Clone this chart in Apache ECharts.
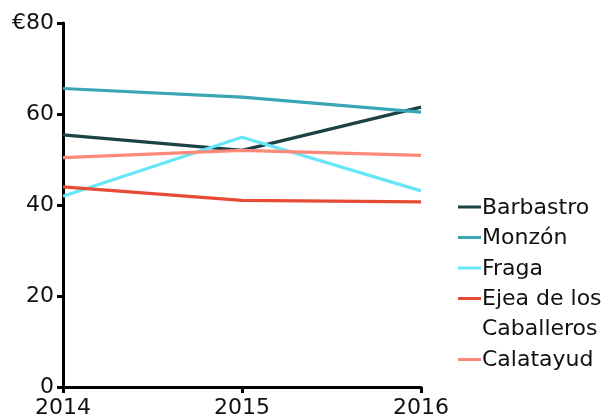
<!DOCTYPE html>
<html><head><meta charset="utf-8">
<script src="https://cdn.jsdelivr.net/npm/echarts@6/dist/echarts.min.js"></script>
<style>html,body{margin:0;padding:0;background:#fff}#c{width:611px;height:418px}</style>
</head><body><div id="c"></div>
<script>
const years = ['2014', '2015', '2016'];
const barbastro = [55.4, 52.0, 61.5];
const monzon = [65.6, 63.7, 60.4];
const fraga = [41.9, 54.9, 43.1];
const ejea = [44.0, 41.0, 40.7];
const calatayud = [50.4, 52.0, 50.9];
const seriesNames = ['Barbastro', 'Monzón', 'Fraga', 'Ejea de los\nCaballeros', 'Calatayud'];
const colors = ['#1b4346', '#3aa6b3', '#66e6f7', '#e84b35', '#fd8a78'];
const yTicks = [0, 20, 40, 60, 80];

const font = 'DejaVu Sans';
const dataSets = [barbastro, monzon, fraga, ejea, calatayud];

// legend built as graphic so the icon aligns with the first text line
const legendEls = [];
let ly = 207;
seriesNames.forEach((n, i) => {
  legendEls.push({type: 'line', shape: {x1: 458, y1: ly, x2: 481, y2: ly},
    style: {stroke: colors[i], lineWidth: 3}});
  legendEls.push({type: 'text', x: 482, y: ly - 14,
    style: {text: n, fill: '#111', font: '22px "DejaVu Sans"', lineHeight: 30, textVerticalAlign: 'top'}});
  ly += 30.5 * n.split('\n').length;
});

const chart = echarts.init(document.getElementById('c'), null, {renderer: 'canvas'});
chart.setOption({
  animation: false,
  grid: {left: 63, right: 190, top: 23, bottom: 31, containLabel: false, outerBoundsMode: 'none'},
  xAxis: {
    type: 'category', data: years, boundaryGap: false,
    axisLine: {lineStyle: {color: '#000', width: 3}},
    axisTick: {show: true, length: 6, lineStyle: {color: '#000', width: 3}, alignWithLabel: true},
    axisLabel: {color: '#111', fontSize: 22, fontFamily: font, margin: 10, showMinLabel: true, showMaxLabel: true, interval: 0}
  },
  yAxis: {
    type: 'value', min: 0, max: 80, interval: 20,
    splitLine: {show: false},
    axisLine: {show: true, lineStyle: {color: '#000', width: 3}},
    axisTick: {show: true, length: 6, lineStyle: {color: '#000', width: 3}},
    axisLabel: {color: '#111', fontSize: 22, fontFamily: font, margin: 9,
      formatter: v => (v === yTicks[yTicks.length - 1] ? '€' + v : String(v))}
  },
  graphic: legendEls,
  series: seriesNames.map((n, i) => ({
    name: n, type: 'line', data: dataSets[i], showSymbol: false, symbol: 'none',
    lineStyle: {color: colors[i], width: 3.2}, itemStyle: {color: colors[i]}
  }))
});
</script></body></html>
